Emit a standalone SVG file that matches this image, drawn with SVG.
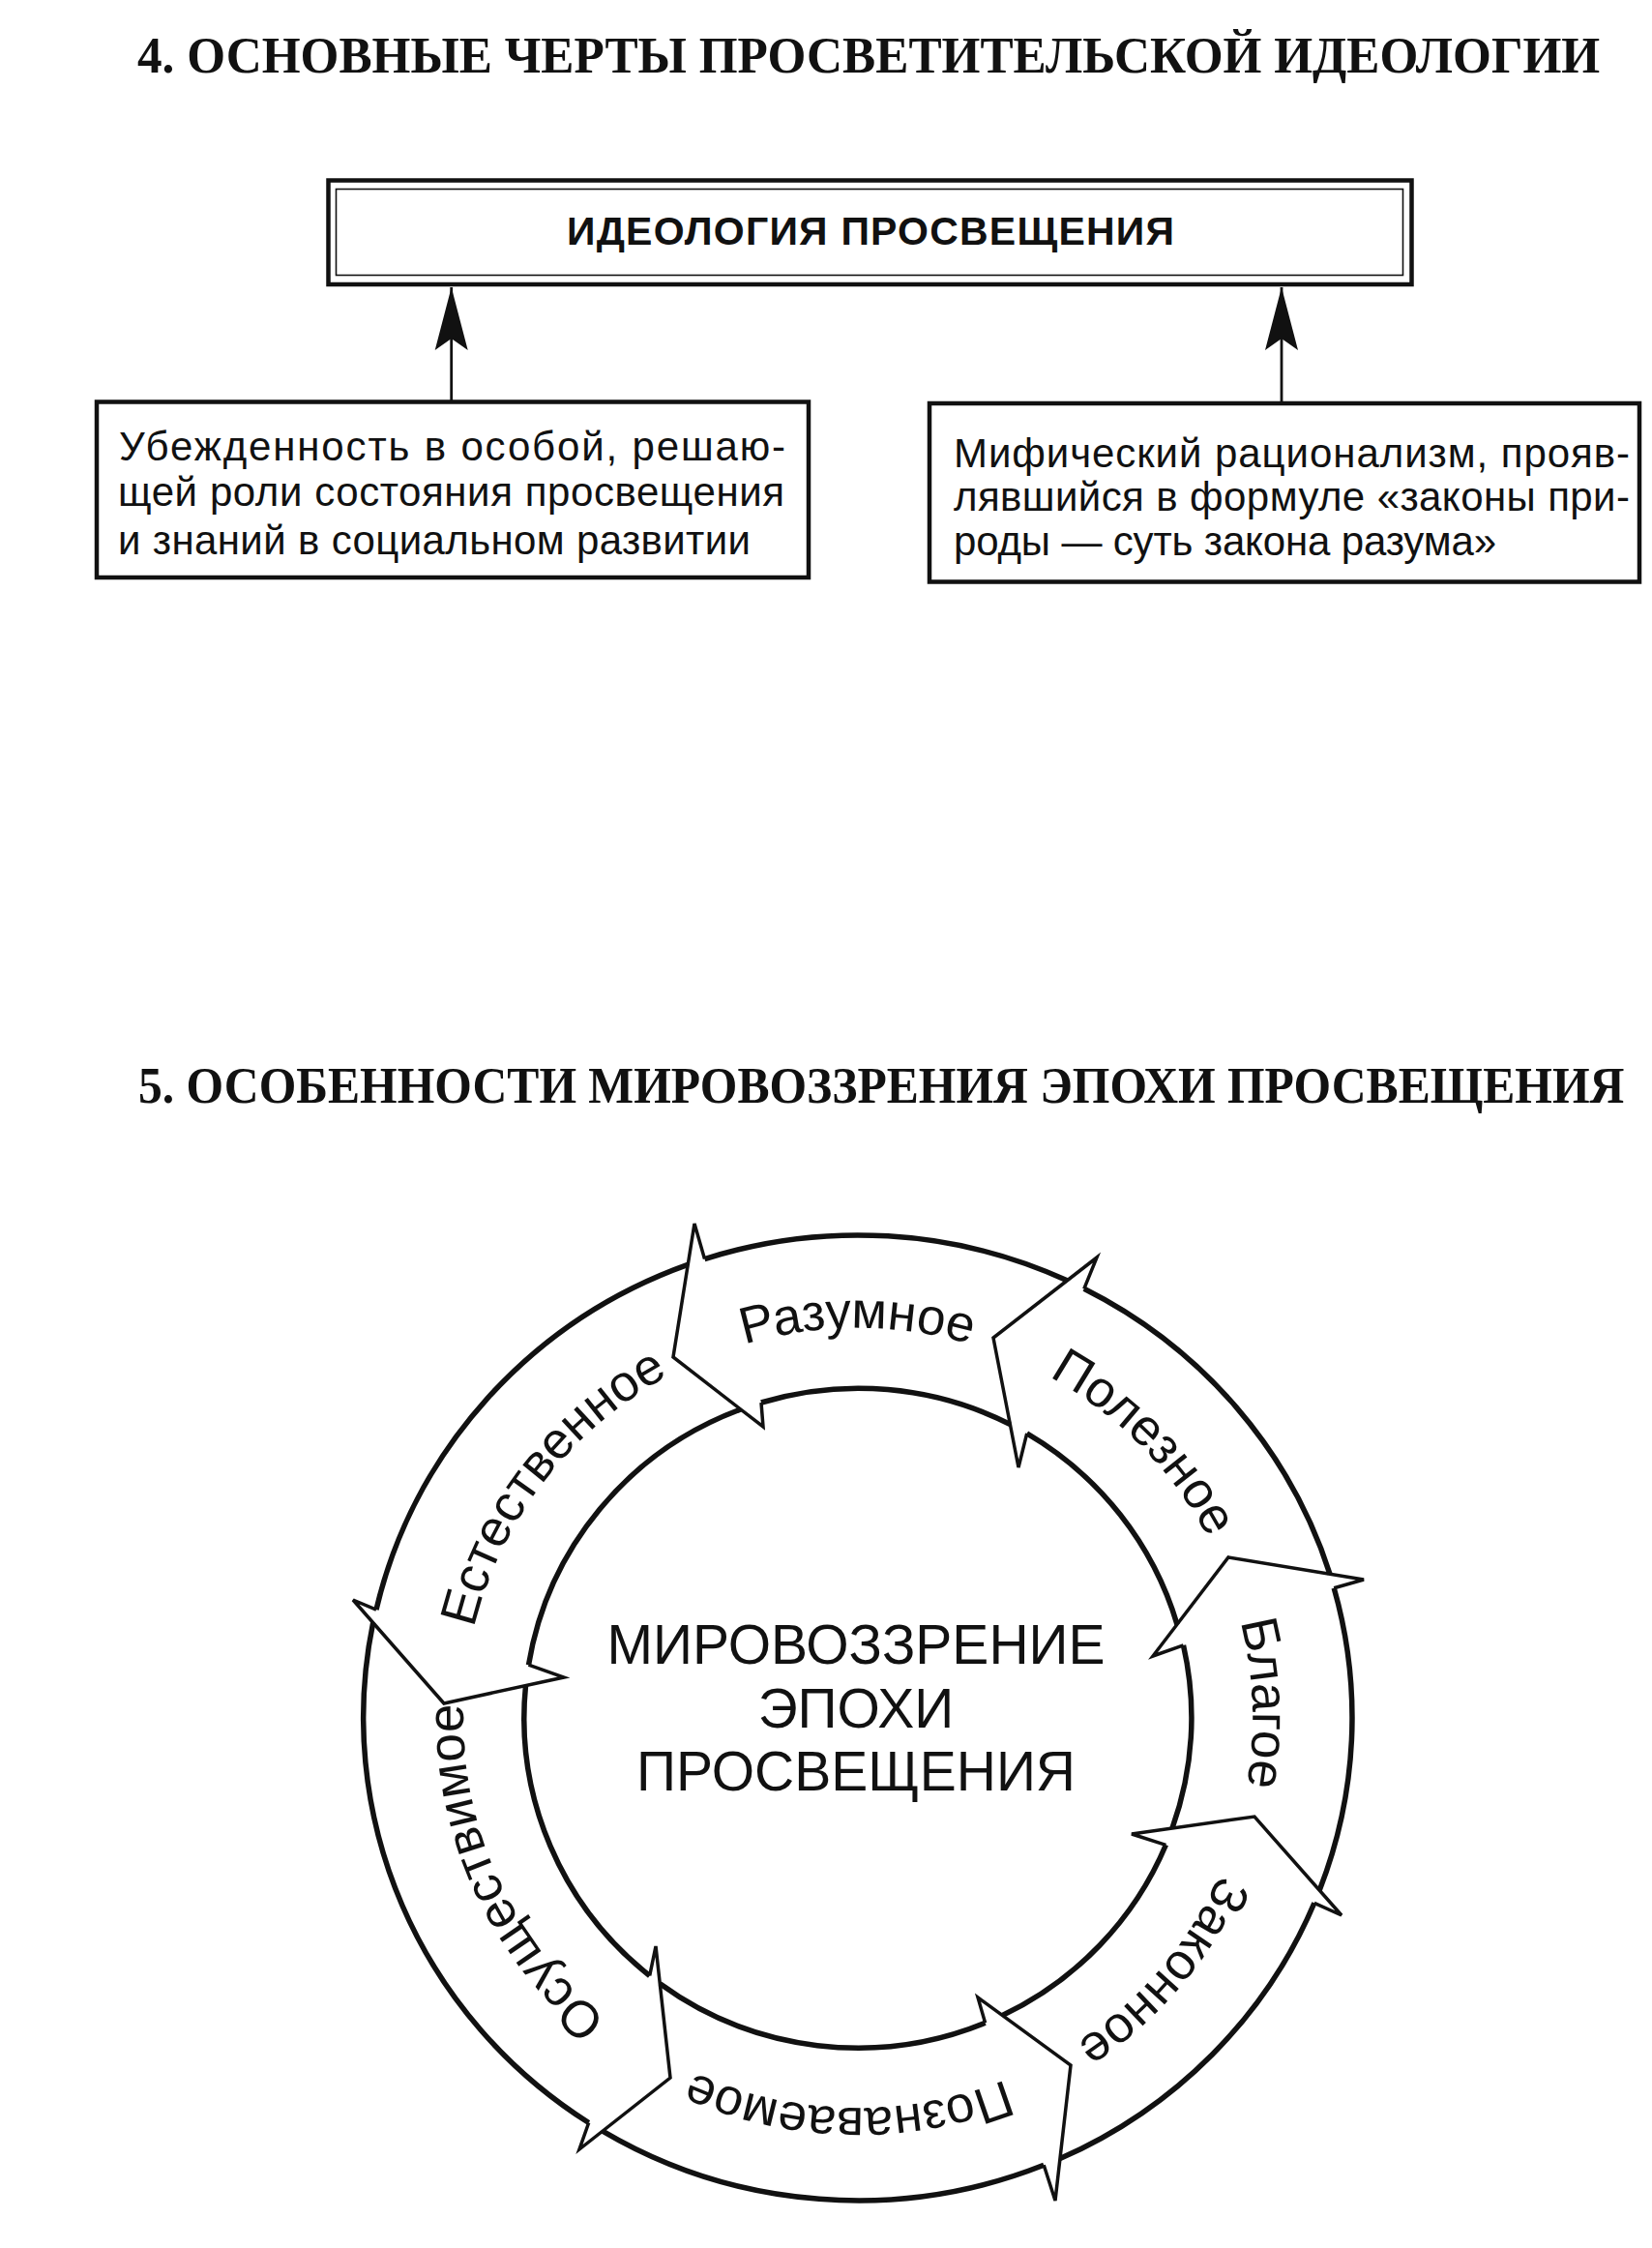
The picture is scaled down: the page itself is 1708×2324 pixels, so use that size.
<svg xmlns="http://www.w3.org/2000/svg" width="1708" height="2324" viewBox="0 0 1708 2324">
<style>
.ttl{font-family:"Liberation Serif","Times New Roman",serif;font-weight:bold;font-size:52px;fill:#111}
.sans{font-family:"Liberation Sans",Arial,sans-serif;fill:#111}
.box{fill:#fff;stroke:#111;stroke-width:4.5}
.thin{fill:none;stroke:#111;stroke-width:1.6}
.btxt{font-size:42px}
.arc{fill:none;stroke:#111;stroke-width:5.5}
.chev{fill:none;stroke:#111;stroke-width:3.5;stroke-linejoin:miter}
.lbl{font-size:53px}
.ctr{font-size:57px;text-anchor:middle}
.conn{stroke:#111;stroke-width:2.8;fill:none}
</style>
<defs>
<marker id="ah" markerUnits="userSpaceOnUse" viewBox="-70 -20 75 40" markerWidth="75" markerHeight="40" refX="0" refY="0" orient="auto">
<path d="M0,0 L-65,-17 L-53,0 L-65,17 Z" fill="#111"/>
</marker>
<path id="ring" d="M 1277.2 1893.8 A 408 403 0 1 1 496.8 1658.2 A 408 403 0 1 1 1277.2 1893.8"/>
</defs>
<rect width="1708" height="2324" fill="#fff"/>

<text id="title4" class="ttl" transform="translate(142 75) scale(0.93 1)" x="0" y="0" textLength="1626" lengthAdjust="spacingAndGlyphs">4. ОСНОВНЫЕ ЧЕРТЫ ПРОСВЕТИТЕЛЬСКОЙ ИДЕОЛОГИИ</text>

<g id="node-ideology">
<rect class="box" x="339.5" y="186.5" width="1120" height="107.5"/>
<rect class="thin" x="347.5" y="195.5" width="1103" height="89"/>
<text class="sans" x="586" y="253" font-size="41" font-weight="bold" textLength="628" lengthAdjust="spacing">ИДЕОЛОГИЯ ПРОСВЕЩЕНИЯ</text>
</g>

<g id="node-left">
<rect class="box" x="100" y="415.5" width="736" height="181.5"/>
<text class="sans btxt" x="123" y="476" textLength="689" lengthAdjust="spacing">Убежденность в особой, решаю-</text>
<text class="sans btxt" x="122" y="523" textLength="689" lengthAdjust="spacing">щей роли состояния просвещения</text>
<text class="sans btxt" x="122" y="573" textLength="654" lengthAdjust="spacing">и знаний в социальном развитии</text>
</g>

<g id="node-right">
<rect class="box" x="961" y="417" width="734" height="184.5"/>
<text class="sans btxt" x="986" y="483" textLength="699" lengthAdjust="spacing">Мифический рационализм, прояв-</text>
<text class="sans btxt" x="986" y="528" textLength="699" lengthAdjust="spacing">лявшийся в формуле «законы при-</text>
<text class="sans btxt" x="986" y="574" textLength="561" lengthAdjust="spacing">роды — суть закона разума»</text>
</g>

<g id="connectors">
<line class="conn" x1="466.7" y1="415" x2="466.7" y2="297" marker-end="url(#ah)"/>
<line class="conn" x1="1325" y1="417" x2="1325" y2="297" marker-end="url(#ah)"/>
</g>

<text id="title5" class="ttl" transform="translate(143 1140) scale(0.93 1)" x="0" y="0" textLength="1652" lengthAdjust="spacingAndGlyphs">5. ОСОБЕННОСТИ МИРОВОЗЗРЕНИЯ ЭПОХИ ПРОСВЕЩЕНИЯ</text>

<g id="node-center">
<text class="sans ctr" x="885" y="1720">МИРОВОЗЗРЕНИЕ</text>
<text class="sans ctr" x="885" y="1786">ЭПОХИ</text>
<text class="sans ctr" x="885" y="1851">ПРОСВЕЩЕНИЯ</text>
</g>

<g id="seg-razumnoe">
<path class="arc" d="M 1103.3 1323.8 A 511 499 0 0 0 728.5 1301.6"/>
<path class="chev" d="M 728.5 1301.6 L 718 1265 L 696 1403 L 789 1475 L 787 1450"/>
<path class="arc" d="M 787 1450 A 345 341 0 0 1 1044.4 1472.5"/>
<text class="sans lbl"><textPath href="#ring" startOffset="70.28%" text-anchor="middle">Разумное</textPath></text>
</g>

<g id="seg-estestvennoe">
<path class="arc" d="M 711.2 1307.3 A 511 499 0 0 0 389 1664.1"/>
<path class="chev" d="M 389 1664.1 L 365 1654 L 459 1761 L 583 1734 L 546.5 1721.2"/>
<path class="arc" d="M 546.5 1721.2 A 345 341 0 0 1 765.8 1457"/>
<text class="sans lbl"><textPath href="#ring" startOffset="55.64%" text-anchor="middle">Естественное</textPath></text>
</g>

<g id="seg-osushchestvimoe">
<path class="arc" d="M 385.7 1677.5 A 511 499 0 0 0 608.7 2194.5"/>
<path class="chev" d="M 608.7 2194.5 L 599 2222 L 693 2148 L 678 2012 L 671.7 2042.5"/>
<path class="arc" d="M 671.7 2042.5 A 345 341 0 0 1 543.5 1742.6"/>
<text class="sans lbl"><textPath href="#ring" startOffset="38.6%" text-anchor="middle">Осуществимое</textPath></text>
</g>

<g id="seg-poznavaemoe">
<path class="arc" d="M 623 2203.1 A 511 499 0 0 0 1079.2 2238.3"/>
<path class="chev" d="M 1079.2 2238.3 L 1091 2275 L 1107 2135 L 1011 2065 L 1018.6 2091.3"/>
<path class="arc" d="M 1018.6 2091.3 A 345 341 0 0 1 682.3 2050.8"/>
<text class="sans lbl"><textPath href="#ring" startOffset="20.69%" text-anchor="middle">Познаваемое</textPath></text>
</g>

<g id="seg-zakonnoe">
<path class="arc" d="M 1096 2231.6 A 511 499 0 0 0 1358.9 1967.3"/>
<path class="chev" d="M 1358.9 1967.3 L 1387 1980 L 1297 1878 L 1170 1896 L 1205.4 1907.3"/>
<path class="arc" d="M 1205.4 1907.3 A 345 341 0 0 1 1036.4 2083.5"/>
<text class="sans lbl"><textPath href="#ring" startOffset="6.39%" text-anchor="middle">Законное</textPath></text>
</g>

<g id="seg-blagoe">
<path class="arc" d="M 1364.2 1954.2 A 511 499 0 0 0 1379.2 1641.8"/>
<path class="chev" d="M 1379.2 1641.8 L 1410 1633 L 1270 1610 L 1192 1712 L 1223.5 1700.8"/>
<path class="arc" d="M 1223.5 1700.8 A 345 341 0 0 1 1212 1890"/>
<text class="sans lbl"><textPath href="#ring" startOffset="94.72%" text-anchor="middle">Благое</textPath></text>
</g>

<g id="seg-poleznoe">
<path class="arc" d="M 1375 1627.3 A 511 499 0 0 0 1120.8 1332.3"/>
<path class="chev" d="M 1120.8 1332.3 L 1134 1300 L 1027 1383 L 1053 1517 L 1061.7 1481.9"/>
<path class="arc" d="M 1061.7 1481.9 A 345 341 0 0 1 1217 1679.4"/>
<text class="sans lbl"><textPath href="#ring" startOffset="83.06%" text-anchor="middle">Полезное</textPath></text>
</g>
</svg>
